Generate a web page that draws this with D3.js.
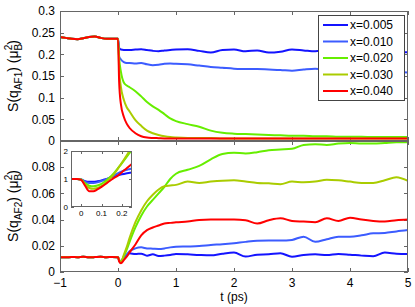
<!DOCTYPE html>
<html lang="en">
<head>
    <meta charset="utf-8">
    <title>S(q) vs t</title>
    <script src="https://cdn.jsdelivr.net/npm/d3@7"></script>
    <style type="text/css">
        body { margin: 0; background: #fff; }
        text { font-family: "Liberation Sans", Arial, sans-serif; }
    </style>
</head>
<body>
<script type="text/javascript">
    // data
    var series = ["x=0.005", "x=0.010", "x=0.020", "x=0.030", "x=0.040"];
    var colors = ["#1414ff", "#3c5cff", "#66ee00", "#aacc00", "#ff0000"];

    // before the pulse every run is the same
    var tPre = [-1, -0.9, -0.8, -0.7, -0.6, -0.5, -0.4, -0.3, -0.2, -0.1, 0];
    var af1Pre = [0.240, 0.238, 0.236, 0.235, 0.237, 0.240, 0.241, 0.238, 0.236, 0.236, 0.236];
    var af2Pre = [0.0113, 0.0112, 0.0115, 0.0113, 0.0116, 0.0112, 0.0114, 0.0117, 0.0113, 0.0115, 0.0112];

    var tPost = [0.02, 0.05, 0.1, 0.15, 0.2, 0.3, 0.4, 0.5, 0.6, 0.7, 0.8, 0.9, 1.0,
                 1.2, 1.4, 1.6, 1.8, 2.0, 2.2, 2.4, 2.6, 2.8, 3.0, 3.2, 3.4, 3.6, 3.8,
                 4.0, 4.2, 4.4, 4.6, 4.8, 5.0];

    var af1 = [
        [0.215, 0.211, 0.210, 0.210, 0.210, 0.211, 0.212, 0.210, 0.208, 0.207, 0.209, 0.210, 0.211,
         0.212, 0.208, 0.204, 0.210, 0.211, 0.207, 0.209, 0.204, 0.206, 0.211, 0.209, 0.207, 0.209,
         0.206, 0.208, 0.207, 0.205, 0.206, 0.205, 0.205],
        [0.195, 0.188, 0.182, 0.180, 0.180, 0.179, 0.180, 0.177, 0.175, 0.176, 0.178, 0.179, 0.178,
         0.177, 0.174, 0.171, 0.169, 0.167, 0.166, 0.166, 0.165, 0.164, 0.162, 0.165, 0.167, 0.165,
         0.163, 0.162, 0.161, 0.160, 0.160, 0.159, 0.158],
        [0.190, 0.160, 0.135, 0.128, 0.124, 0.115, 0.103, 0.090, 0.080, 0.072, 0.062, 0.052, 0.046,
         0.039, 0.033, 0.024, 0.019, 0.017, 0.016, 0.015, 0.014, 0.013, 0.012, 0.012, 0.011, 0.011,
         0.010, 0.010, 0.010, 0.009, 0.009, 0.009, 0.009],
        [0.165, 0.125, 0.095, 0.078, 0.068, 0.048, 0.035, 0.024, 0.018, 0.014, 0.011, 0.009, 0.008,
         0.007, 0.007, 0.007, 0.006, 0.006, 0.006, 0.006, 0.006, 0.006, 0.006, 0.006, 0.006, 0.006,
         0.006, 0.006, 0.006, 0.006, 0.006, 0.006, 0.006],
        [0.135, 0.085, 0.056, 0.040, 0.030, 0.018, 0.011, 0.008, 0.007, 0.0065, 0.006, 0.006, 0.006,
         0.006, 0.006, 0.006, 0.006, 0.006, 0.006, 0.006, 0.006, 0.006, 0.006, 0.006, 0.006, 0.006,
         0.006, 0.006, 0.006, 0.006, 0.006, 0.006, 0.006]
    ];

    var af2 = [
        [0.0090, 0.0080, 0.0100, 0.0125, 0.0143, 0.0137, 0.0140, 0.0125, 0.0135, 0.0122, 0.0125, 0.0130, 0.0138,
         0.0135, 0.0130, 0.0127, 0.0140, 0.0148, 0.0118, 0.0132, 0.0135, 0.0143, 0.0117, 0.0130, 0.0135, 0.0130,
         0.0138, 0.0132, 0.0125, 0.0120, 0.0148, 0.0140, 0.0137],
        [0.0090, 0.0085, 0.0110, 0.0135, 0.0158, 0.0180, 0.0188, 0.0180, 0.0178, 0.0176, 0.0180, 0.0188, 0.0193,
         0.0195, 0.0198, 0.0206, 0.0212, 0.0220, 0.0230, 0.0238, 0.0240, 0.0240, 0.0245, 0.0270, 0.0230, 0.0250,
         0.0270, 0.0270, 0.0280, 0.0295, 0.0298, 0.0310, 0.0320],
        [0.0090, 0.0080, 0.0120, 0.0170, 0.0230, 0.0340, 0.0430, 0.0500, 0.0550, 0.0600, 0.0650, 0.0710, 0.0750,
         0.0780, 0.0810, 0.0860, 0.0900, 0.0910, 0.0905, 0.0915, 0.0930, 0.0935, 0.0940, 0.0970, 0.0975, 0.0970,
         0.0980, 0.0985, 0.0980, 0.0980, 0.0985, 0.0990, 0.0990],
        [0.0090, 0.0075, 0.0130, 0.0190, 0.0260, 0.0380, 0.0470, 0.0540, 0.0590, 0.0630, 0.0655, 0.0660, 0.0665,
         0.0690, 0.0680, 0.0690, 0.0697, 0.0700, 0.0690, 0.0680, 0.0677, 0.0670, 0.0690, 0.0685, 0.0690, 0.0705,
         0.0700, 0.0690, 0.0680, 0.0680, 0.0700, 0.0723, 0.0695],
        [0.0080, 0.0066, 0.0090, 0.0117, 0.0150, 0.0210, 0.0280, 0.0320, 0.0340, 0.0355, 0.0370, 0.0375, 0.0380,
         0.0385, 0.0397, 0.0400, 0.0400, 0.0400, 0.0395, 0.0370, 0.0395, 0.0410, 0.0390, 0.0385, 0.0380, 0.0410,
         0.0390, 0.0415, 0.0400, 0.0390, 0.0386, 0.0395, 0.0400]
    ];

    // inset: AF2 normalised to its value before the pulse
    var tIn = [-0.05, -0.02, 0, 0.02, 0.04, 0.06, 0.08, 0.1, 0.12, 0.14, 0.16, 0.18, 0.2, 0.22, 0.24, 0.25];
    var inset = [
        [1.0, 1.0, 0.98, 0.92, 0.90, 0.90, 0.92, 0.95, 0.99, 1.04, 1.09, 1.13, 1.17, 1.20, 1.22, 1.23],
        [1.0, 1.0, 0.98, 0.90, 0.86, 0.86, 0.88, 0.93, 0.98, 1.05, 1.12, 1.20, 1.27, 1.32, 1.36, 1.38],
        [1.0, 1.0, 0.98, 0.85, 0.76, 0.74, 0.77, 0.83, 0.93, 1.05, 1.20, 1.38, 1.56, 1.75, 1.95, 2.05],
        [1.0, 1.0, 0.97, 0.80, 0.68, 0.65, 0.68, 0.75, 0.86, 1.00, 1.16, 1.36, 1.58, 1.80, 2.02, 2.10],
        [1.0, 1.0, 0.97, 0.75, 0.56, 0.56, 0.63, 0.72, 0.82, 0.93, 1.03, 1.12, 1.24, 1.36, 1.48, 1.55]
    ];

    var xTicks = [-1, 0, 1, 2, 3, 4, 5];
    var y1Ticks = [0, 0.05, 0.1, 0.15, 0.2, 0.25, 0.3];
    var y2Ticks = [0, 0.02, 0.04, 0.06, 0.08, 0.1];
    var y2Labels = ["0", "0.02", "0.04", "0.06", "0.08", ""];
    var inXTicks = [0, 0.1, 0.2];
    var inYTicks = [0, 1, 2];

    var w = 415, h = 307;
    var left = 60, right = 408;
    var frame = "#666";

    var svg = d3.select("body").append("svg")
            .attr("width", w)
            .attr("height", h);

    var x = d3.scaleLinear().domain([-1, 5]).range([left, right]);
    var y1 = d3.scaleLinear().domain([0, 0.3]).range([141, 11]);
    var y2 = d3.scaleLinear().domain([0, 0.1]).range([272, 141]);

    function join(pre, post) {
        var pts = [];
        tPre.forEach(function(t, i) { pts.push([t, pre[i]]); });
        tPost.forEach(function(t, i) { pts.push([t, post[i]]); });
        return pts;
    }

    // draws one framed panel with inward ticks on all four sides
    function panel(id, xs, ys, xt, yt, ylab, fs, showX) {
        var g = svg.append("g");
        var x0 = xs.range()[0], x1 = xs.range()[1];
        var yb = ys.range()[0], yt0 = ys.range()[1];
        var tl = fs > 10 ? 4 : 3;

        g.append("rect")
                .attr("x", x0).attr("y", yt0)
                .attr("width", x1 - x0).attr("height", yb - yt0)
                .attr("fill", "#fff");

        svg.append("clipPath").attr("id", id)
                .append("rect")
                .attr("x", x0).attr("y", yt0)
                .attr("width", x1 - x0).attr("height", yb - yt0);

        var ticks = g.append("g").attr("stroke", frame).attr("stroke-width", 1);
        xt.forEach(function(v) {
            var px = Math.round(xs(v)) + 0.5;
            ticks.append("line").attr("x1", px).attr("x2", px).attr("y1", yb).attr("y2", yb - tl);
            ticks.append("line").attr("x1", px).attr("x2", px).attr("y1", yt0).attr("y2", yt0 + tl);
        });
        yt.forEach(function(v) {
            var py = Math.round(ys(v)) + 0.5;
            ticks.append("line").attr("x1", x0).attr("x2", x0 + tl).attr("y1", py).attr("y2", py);
            ticks.append("line").attr("x1", x1).attr("x2", x1 - tl).attr("y1", py).attr("y2", py);
        });

        g.selectAll("text.yl")
                .data(yt)
                .enter()
                .append("text")
                .attr("class", "yl")
                .attr("x", x0 - (fs > 10 ? 5 : 3))
                .attr("y", function(d) { return ys(d); })
                .attr("dy", "0.35em")
                .attr("text-anchor", "end")
                .attr("font-size", fs + "px")
                .text(function(d, i) { return ylab ? ylab[i] : d3.format("~g")(d); });

        if (showX) {
            g.selectAll("text.xl")
                    .data(xt)
                    .enter()
                    .append("text")
                    .attr("class", "xl")
                    .attr("x", function(d) { return xs(d); })
                    .attr("y", yb + (fs > 10 ? 14.5 : 9))
                    .attr("text-anchor", "middle")
                    .attr("font-size", fs + "px")
                    .text(function(d) { return d3.format("~g")(d); });
        }
        return g;
    }

    function frameRect(xs, ys) {
        svg.append("rect")
                .attr("x", xs.range()[0] + 0.5).attr("y", ys.range()[1] + 0.5)
                .attr("width", xs.range()[1] - xs.range()[0] - 1)
                .attr("height", ys.range()[0] - ys.range()[1] - 1)
                .attr("fill", "none")
                .attr("stroke", frame);
    }

    function drawLines(id, xs, ys, data, sw) {
        var line = d3.line()
                .x(function(d) { return xs(d[0]); })
                .y(function(d) { return ys(d[1]); })
                .curve(d3.curveMonotoneX);
        svg.append("g")
                .attr("clip-path", "url(#" + id + ")")
                .selectAll("path")
                .data(data)
                .enter()
                .append("path")
                .attr("d", line)
                .attr("fill", "none")
                .attr("stroke", function(d, i) { return colors[i]; })
                .attr("stroke-width", sw)
                .attr("stroke-linejoin", "round");
    }

    // top panel
    panel("c1", x, y1, xTicks, y1Ticks, null, 12, false);
    drawLines("c1", x, y1, af1.map(function(s) { return join(af1Pre, s); }), 2);
    frameRect(x, y1);

    // bottom panel
    panel("c2", x, y2, xTicks, y2Ticks, y2Labels, 12, true);
    drawLines("c2", x, y2, af2.map(function(s) { return join(af2Pre, s); }), 2);
    frameRect(x, y2);

    // inset
    var xi = d3.scaleLinear().domain([-0.05, 0.25]).range([71, 132]);
    var yi = d3.scaleLinear().domain([0, 2]).range([207, 151]);
    panel("c3", xi, yi, inXTicks, inYTicks, null, 8, true);
    drawLines("c3", xi, yi, inset.map(function(s) {
        return tIn.map(function(t, i) { return [t, s[i]]; });
    }), 2);
    frameRect(xi, yi);

    // axis titles
    svg.append("text")
            .attr("x", x(2))
            .attr("y", 300.5)
            .attr("text-anchor", "middle")
            .attr("font-size", "12px")
            .text("t (ps)");

    function ylabel(cy, name) {
        var t = svg.append("text")
                .attr("transform", "translate(18," + cy + ") rotate(-90)")
                .attr("text-anchor", "middle")
                .attr("font-size", "14px");
        t.append("tspan").text("S(q");
        t.append("tspan").attr("font-size", "10px").attr("dy", 3.5).text(name);
        t.append("tspan").attr("dy", -3.5).text(") (\u03bc");
        t.append("tspan").attr("font-size", "10px").attr("dy", 3.5).text("B");
        t.append("tspan").attr("font-size", "10px").attr("dx", -6.5).attr("dy", -10).text("2");
        t.append("tspan").attr("dy", 6.5).text(")");
    }
    ylabel(76, "AF1");
    ylabel(206, "AF2");

    // legend
    var lg = svg.append("g");
    lg.append("rect")
            .attr("x", 318.5).attr("y", 15.5)
            .attr("width", 86).attr("height", 85)
            .attr("fill", "#fff")
            .attr("stroke", "#444");
    series.forEach(function(s, i) {
        var ly = 25 + i * 16.5;
        lg.append("line")
                .attr("x1", 323).attr("x2", 348)
                .attr("y1", ly).attr("y2", ly)
                .attr("stroke", colors[i])
                .attr("stroke-width", 2);
        lg.append("text")
                .attr("x", 350)
                .attr("y", ly)
                .attr("dy", "0.35em")
                .attr("font-size", "12px")
                .text(s);
    });
</script>
</body>
</html>
